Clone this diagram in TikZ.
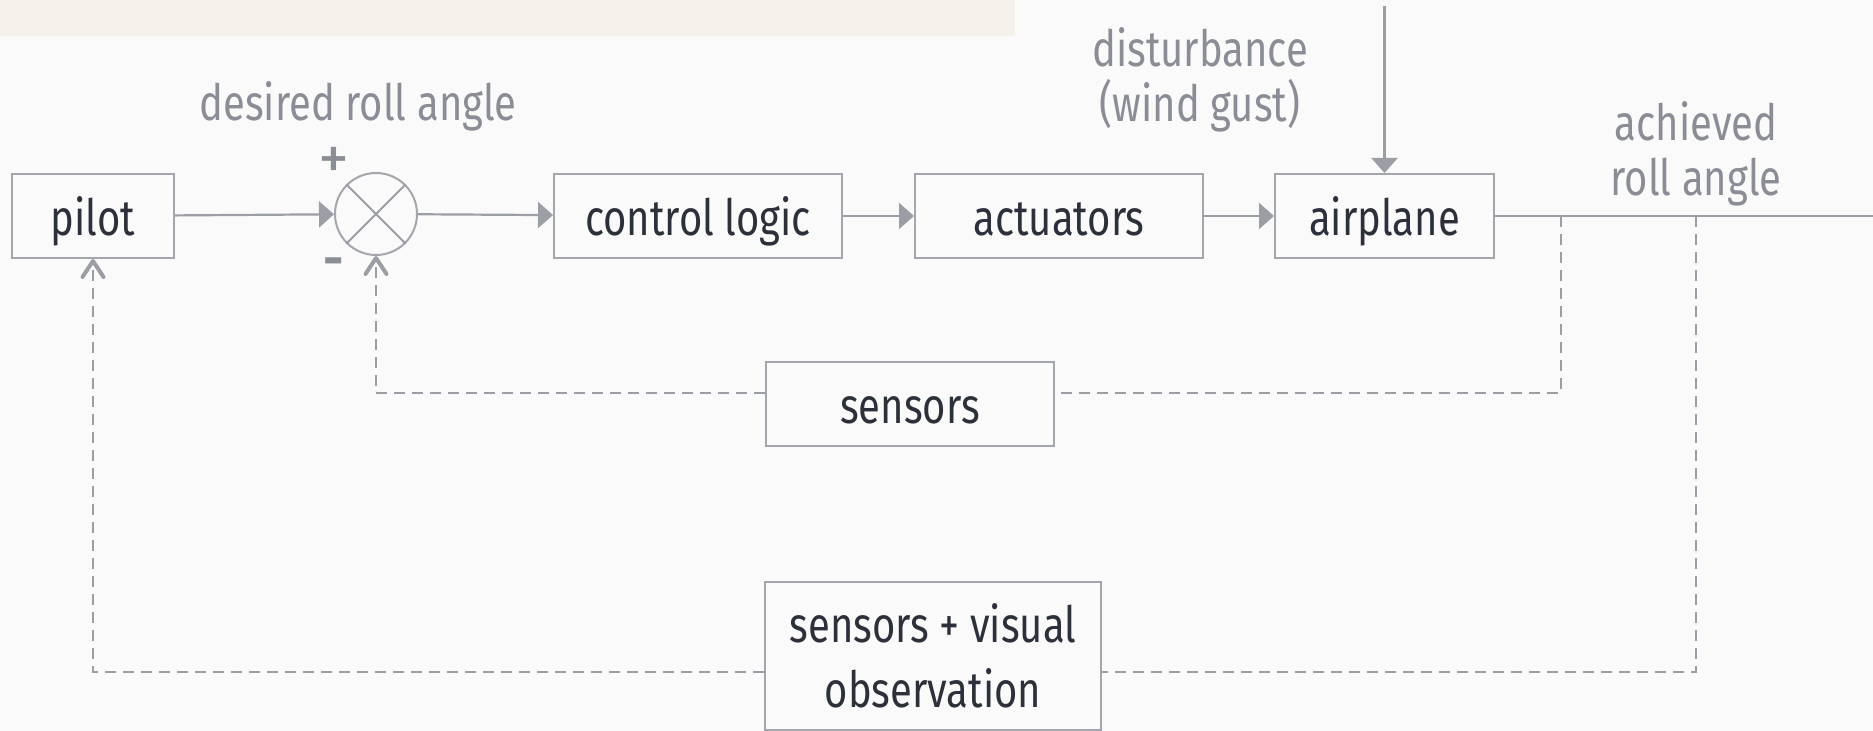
\documentclass[tikz,border=0pt]{standalone}
\usepackage{fontspec}
\setmainfont{Fira Sans}[FakeStretch=0.8]
\newfontfamily\signfont{Fira Sans}
\usetikzlibrary{arrows.meta,calc}
\definecolor{bg}{HTML}{FAFAFA}
\definecolor{band}{HTML}{F6F1EB}
\definecolor{linegray}{HTML}{9B9EA5}
\definecolor{boxline}{HTML}{A3A6AD}
\definecolor{boxtext}{HTML}{2B303B}
\definecolor{labeltext}{HTML}{8A8D96}
\tikzset{
  blockbox/.style={draw=boxline, line width=1pt, fill=bg, text=boxtext,
    minimum height=42pt, inner sep=0pt, font=\fontsize{25}{32.5}\selectfont, align=center},
  onebox/.style={blockbox, text height=25pt, text depth=5pt},
  sumnode/.style={circle, draw=boxline, line width=1pt, fill=bg, minimum size=41pt, inner sep=0pt},
  lbl/.style={text=labeltext, font=\fontsize{25}{27.5}\selectfont, align=center, inner sep=0pt},
  signlbl/.style={text=labeltext, inner sep=0pt, anchor=base},
  solidline/.style={draw=linegray, line width=1.1pt},
  solidarrow/.style={solidline, -{Triangle[length=7.5pt,width=13pt]}},
  dashline/.style={draw=linegray, line width=1.1pt, dash pattern=on 5.5pt off 3.5pt},
  dasharrow/.style={dashline, -{Straight Barb[length=8pt,width=10.5pt,line width=2pt,line cap=round,line join=round]}}
}
\begin{document}
\begin{tikzpicture}[x=0.5pt,y=-0.5pt]
\fill[bg] (0,0) rectangle (1873,731);
\useasboundingbox (0,0) rectangle (1873,731);
\fill[band] (0,0) rectangle (1015,36);

% blocks
\node[onebox, minimum width=81pt] (pilot) at (93,216) {pilot};
\node[sumnode] (sum) at (376,214) {};
\draw[linegray, line width=1pt] (sum.north west) -- (sum.south east);
\draw[linegray, line width=1pt] (sum.north east) -- (sum.south west);
\node[onebox, minimum width=144pt] (ctrl) at (698,216) {control logic};
\node[onebox, minimum width=144pt] (act) at (1059,216) {actuators};
\node[onebox, minimum width=109.5pt] (air) at (1384.5,216) {airplane};
\node[onebox, minimum width=144pt] (sens) at (910,404) {sensors};
\node[blockbox, minimum width=168pt, minimum height=74pt] (sv) at (933,656) {sensors + visual\\observation};

% labels
\node[signlbl, font=\signfont\fontsize{31}{31}\selectfont] (plus) at (334,180) {+};
\node[signlbl, font=\signfont\bfseries\fontsize{25}{25}\selectfont] (minus) at (334,277) {-};
\node[lbl] (desired) at (358,106) {desired roll angle};
\node[lbl] (dist) at (1200,80) {disturbance\\(wind gust)};
\node[lbl] (ach) at (1696,154) {achieved\\roll angle};

% coordinates
\coordinate (dtop) at (1384.5,6);
\coordinate (out) at (1873,216);
\coordinate (b1) at (1561,216);
\coordinate (b2) at (1696,216);

% forward path
\draw[solidarrow] (pilot) -- (sum);
\draw[solidarrow] (sum) -- (ctrl);
\draw[solidarrow] (ctrl) -- (act);
\draw[solidarrow] (act) -- (air);
\draw[solidarrow] (dtop) -- (air);
\draw[solidline] (air.east) -- (out);

% feedback loops
\draw[dashline] (b1) |- ([yshift=5.5pt]sens.east);
\draw[dasharrow] ([yshift=5.5pt]sens.west) -| (sum.south);
\draw[dashline] (b2) |- ([yshift=-8pt]sv.east);
\draw[dasharrow] ([yshift=-8pt]sv.west) -| (pilot.south);
\end{tikzpicture}
\end{document}
